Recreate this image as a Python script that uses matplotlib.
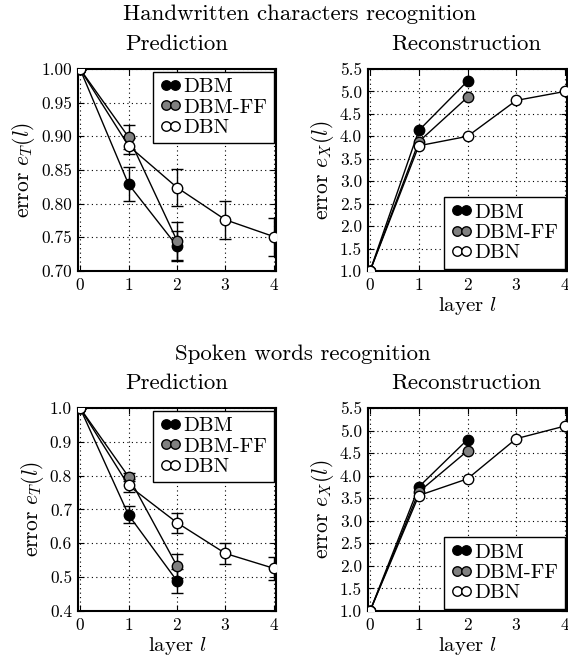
import matplotlib
matplotlib.use("Agg")
import matplotlib.pyplot as plt
import numpy as np

plt.rcParams['font.family'] = ['cmr10', 'DejaVu Serif']
plt.rcParams['mathtext.fontset'] = 'cm'
plt.rcParams['axes.unicode_minus'] = False
plt.rcParams['axes.formatter.use_mathtext'] = True

models = ["DBM", "DBM-FF", "DBN"]
colors = {"DBM": "black", "DBM-FF": "#808080", "DBN": "white"}

layers = {"DBM": [0, 1, 2], "DBM-FF": [0, 1, 2], "DBN": [0, 1, 2, 3, 4]}

# Handwritten characters
hw_pred = {"DBM": [1.0, 0.829, 0.737], "DBM-FF": [1.0, 0.899, 0.745],
           "DBN": [1.0, 0.886, 0.824, 0.776, 0.751]}
hw_pred_err = {"DBM": [0.0, 0.025, 0.022], "DBM-FF": [0.0, 0.018, 0.028],
               "DBN": [0.0, 0.012, 0.028, 0.028, 0.028]}
hw_rec = {"DBM": [1.0, 4.13, 5.23], "DBM-FF": [1.0, 3.88, 4.87],
          "DBN": [1.0, 3.79, 4.0, 4.8, 5.0]}

# Spoken words
sw_pred = {"DBM": [1.0, 0.684, 0.489], "DBM-FF": [1.0, 0.797, 0.533],
           "DBN": [1.0, 0.771, 0.661, 0.570, 0.526]}
sw_pred_err = {"DBM": [0.0, 0.025, 0.035], "DBM-FF": [0.0, 0.012, 0.035],
               "DBN": [0.0, 0.02, 0.03, 0.03, 0.033]}
sw_rec = {"DBM": [1.0, 3.75, 4.8], "DBM-FF": [1.0, 3.64, 4.55],
          "DBN": [1.0, 3.56, 3.93, 4.82, 5.1]}

W, H = 568, 659
fig = plt.figure(figsize=(W / 100, H / 100), dpi=100)

def px_axes(l, t, r, b):
    return fig.add_axes([l / W, 1 - b / H, (r - l) / W, (b - t) / H])

ax_tl = px_axes(77.6, 69, 276.4, 271)
ax_tr = px_axes(367.6, 69, 567.4, 271)
ax_bl = px_axes(77.6, 408, 276.4, 611)
ax_br = px_axes(367.6, 408, 567.4, 611)

MS = 7.5

def style(ax, ylim, yticks, fmt, ylabel, xlabel):
    ax.set_xlim(-0.05, 4.05)
    ax.set_ylim(*ylim)
    ax.set_xticks([0, 1, 2, 3, 4])
    ax.set_yticks(yticks)
    ax.set_yticklabels([fmt % v for v in yticks])
    ax.grid(True, linestyle=(0, (1, 3)), color='black', linewidth=0.8)
    ax.tick_params(direction='in', top=True, right=True, labelsize=12.5, length=4.5, width=0.8, pad=4)
    for s in ax.spines.values():
        s.set_linewidth(1.5)
    ax.set_ylabel(ylabel, fontsize=15.5, labelpad=3)
    if xlabel:
        ax.set_xlabel("layer $l$", fontsize=15, labelpad=2)

def plot_pred(ax, data, err):
    for m in models:
        ax.errorbar(layers[m], data[m], yerr=err[m], color='black', ecolor='black', elinewidth=1.0,
                    capsize=4, capthick=1.0, marker='o', markersize=MS,
                    markerfacecolor=colors[m], markeredgecolor='black', linewidth=1.0,
                    label=m, zorder=3)

def plot_rec(ax, data):
    for m in models:
        ax.plot(layers[m], data[m], color='black', marker='o', markersize=MS,
                markerfacecolor=colors[m], markeredgecolor='black', linewidth=1.0,
                label=m, zorder=3)

def legend(ax, loc):
    handles = [plt.Line2D([], [], linestyle='none', marker='o', markersize=6.8,
                          markerfacecolor=colors[m], markeredgecolor='black') for m in models]
    leg = ax.legend(handles, models, loc=loc, numpoints=2, handlelength=1.05,
                    handletextpad=0.1, borderpad=0.3, labelspacing=0.08,
                    fancybox=False, framealpha=1, edgecolor='black', fontsize=15,
                    borderaxespad=0.12)
    leg.get_frame().set_linewidth(1.0)

plot_pred(ax_tl, hw_pred, hw_pred_err)
style(ax_tl, (0.70, 1.00), [0.70, 0.75, 0.80, 0.85, 0.90, 0.95, 1.00], "%.2f",
      r"error $e_T(l)$", False)
legend(ax_tl, 'upper right')

plot_rec(ax_tr, hw_rec)
style(ax_tr, (1.0, 5.5), [1.0, 1.5, 2.0, 2.5, 3.0, 3.5, 4.0, 4.5, 5.0, 5.5], "%.1f",
      r"error $e_X(l)$", True)
legend(ax_tr, 'lower right')

plot_pred(ax_bl, sw_pred, sw_pred_err)
style(ax_bl, (0.4, 1.0), [0.4, 0.5, 0.6, 0.7, 0.8, 0.9, 1.0], "%.1f",
      r"error $e_T(l)$", True)
legend(ax_bl, 'upper right')

plot_rec(ax_br, sw_rec)
style(ax_br, (1.0, 5.5), [1.0, 1.5, 2.0, 2.5, 3.0, 3.5, 4.0, 4.5, 5.0, 5.5], "%.1f",
      r"error $e_X(l)$", True)
legend(ax_br, 'lower right')

TS = 16.5
fig.text(300 / W, 1 - 14 / H, "Handwritten characters recognition", ha='center', va='center', fontsize=TS)
fig.text(177 / W, 1 - 44 / H, "Prediction", ha='center', va='center', fontsize=TS)
fig.text(466 / W, 1 - 44 / H, "Reconstruction", ha='center', va='center', fontsize=TS)
fig.text(303 / W, 1 - 354 / H, "Spoken words recognition", ha='center', va='center', fontsize=TS)
fig.text(177 / W, 1 - 383 / H, "Prediction", ha='center', va='center', fontsize=TS)
fig.text(466 / W, 1 - 383 / H, "Reconstruction", ha='center', va='center', fontsize=TS)

fig.savefig("out.png", dpi=100)
